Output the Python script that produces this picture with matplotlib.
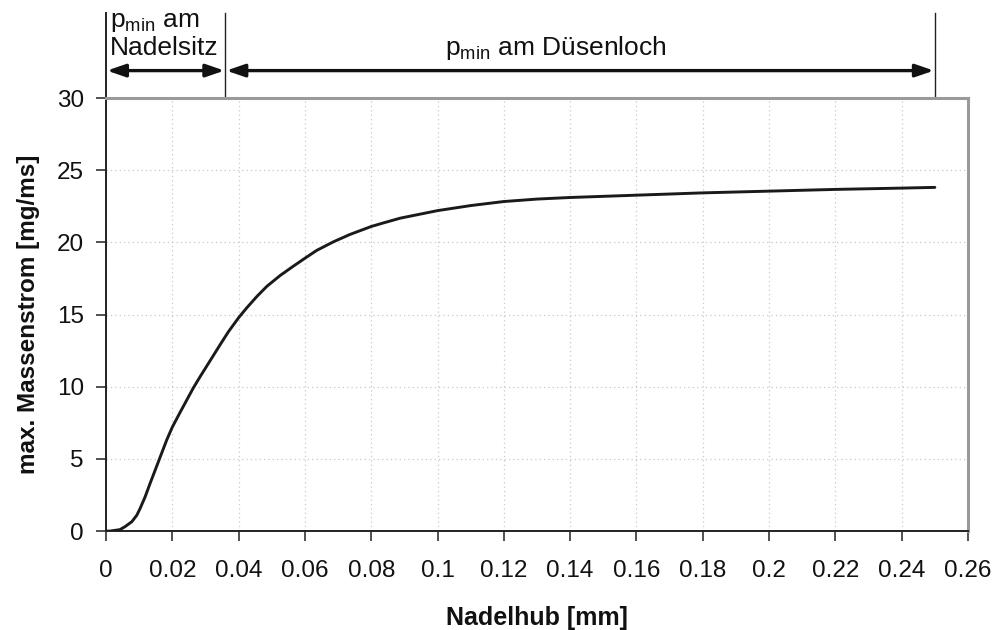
import matplotlib
matplotlib.use("Agg")
import matplotlib.pyplot as plt

plt.rcParams['font.family'] = ['Liberation Sans', 'DejaVu Sans']
plt.rcParams['mathtext.fontset'] = 'custom'
plt.rcParams['mathtext.rm'] = 'Liberation Sans'
plt.rcParams['mathtext.it'] = 'Liberation Sans:italic'
plt.rcParams['mathtext.bf'] = 'Liberation Sans:bold'

# Nadelhub [mm] vs. max. Massenstrom [mg/ms]
hub = [0.0, 0.0012, 0.0042, 0.0057, 0.0078, 0.0093, 0.0103, 0.0118, 0.0133, 0.0148,
       0.0168, 0.0183, 0.020, 0.0223, 0.0243, 0.0263, 0.0284, 0.0314, 0.0344, 0.0369,
       0.040, 0.0424, 0.0455, 0.0485, 0.0525, 0.0565, 0.060, 0.0636, 0.0687, 0.0736,
       0.080, 0.0837, 0.0888, 0.100, 0.110, 0.120, 0.130, 0.140, 0.160, 0.180,
       0.200, 0.220, 0.240, 0.250]
massenstrom = [0.0, 0.0, 0.1, 0.3, 0.65, 1.1, 1.57, 2.37, 3.3, 4.2,
               5.4, 6.3, 7.2, 8.2, 9.05, 9.9, 10.7, 11.8, 12.9, 13.8,
               14.78, 15.45, 16.25, 16.95, 17.7, 18.35, 18.9, 19.45, 20.05, 20.55,
               21.1, 21.35, 21.68, 22.2, 22.55, 22.83, 23.0, 23.11, 23.27, 23.43,
               23.55, 23.67, 23.76, 23.81]

x_ticks = [0, 0.02, 0.04, 0.06, 0.08, 0.1, 0.12, 0.14, 0.16, 0.18, 0.2, 0.22, 0.24, 0.26]
x_ticklabels = ['0', '0.02', '0.04', '0.06', '0.08', '0.1', '0.12', '0.14', '0.16',
                '0.18', '0.2', '0.22', '0.24', '0.26']
y_ticks = [0, 5, 10, 15, 20, 25, 30]

# Bereichsgrenzen
grenze_sitz = 0.036
grenze_ende = 0.25

fig = plt.figure(figsize=(9.96, 6.30), dpi=100)
ax = fig.add_axes([0.1064, 0.157, 0.8655, 0.6874])

ax.plot(hub, massenstrom, color='#1a1a1a', lw=2.1, solid_capstyle='round',
        solid_joinstyle='round', zorder=3)

ax.set_xlim(0, 0.26)
ax.set_ylim(0, 30)
ax.set_xticks(x_ticks)
ax.set_xticklabels(x_ticklabels)
ax.set_yticks(y_ticks)
ax.tick_params(axis='both', direction='out', length=7, width=1.2, color='#333333',
               labelsize=17.5, labelcolor='#111111')
ax.tick_params(axis='y', pad=9)
ax.tick_params(axis='x', pad=14)

ax.grid(True, color='#c8c8c8', linestyle=(0, (1, 2.5)), linewidth=0.9)
ax.set_axisbelow(True)

for side in ['left', 'bottom']:
    ax.spines[side].set_color('#222222')
    ax.spines[side].set_linewidth(1.4)
for side in ['top', 'right']:
    ax.spines[side].set_color('#9a9a9a')
    ax.spines[side].set_linewidth(2.2)

ax.set_xlabel('Nadelhub [mm]', fontsize=18, fontweight='bold', labelpad=17, color='#111111')
ax.set_ylabel('max. Massenstrom [mg/ms]', fontsize=17.5, fontweight='bold', labelpad=12,
              color='#111111')

# Bereichsmarkierungen oberhalb des Diagramms
y_top = 35.9
y_arrow = 31.9
ax.plot([0, 0], [30, y_top], color='#222222', lw=1.4, clip_on=False)
for xg in [grenze_sitz, grenze_ende]:
    ax.plot([xg, xg], [30, y_top], color='#222222', lw=1.0, clip_on=False)

arrow_style = dict(arrowstyle='<|-|>,head_length=1.1,head_width=0.38', color='#111111',
                   lw=2.4, shrinkA=0, shrinkB=0)
ax.annotate('', xy=(0.0003, y_arrow), xytext=(grenze_sitz - 0.0003, y_arrow),
            arrowprops=arrow_style, annotation_clip=False)
ax.annotate('', xy=(grenze_sitz + 0.0003, y_arrow), xytext=(grenze_ende - 0.0003, y_arrow),
            arrowprops=arrow_style, annotation_clip=False)

ax.text(0.0012, 34.95, r'p$_{\mathrm{min}}$ am', fontsize=19,
        ha='left', va='baseline', clip_on=False, color='#111111')
ax.text(0.0012, 32.95, 'Nadelsitz', fontsize=19,
        ha='left', va='baseline', clip_on=False, color='#111111')
ax.text(0.1023, 32.95, r'p$_{\mathrm{min}}$ am Düsenloch', fontsize=19,
        ha='left', va='baseline', clip_on=False, color='#111111')

fig.savefig('out.png', dpi=100)
